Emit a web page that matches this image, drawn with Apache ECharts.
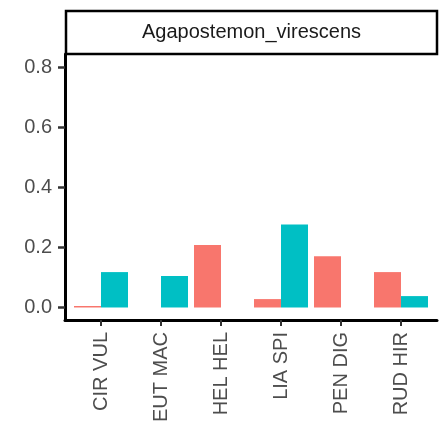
<!DOCTYPE html>
<html>
<head>
<meta charset="utf-8">
<script src="https://cdn.jsdelivr.net/npm/echarts@6/dist/echarts.min.js"></script>
<style>
  html, body { margin: 0; padding: 0; background: #ffffff; }
  #chart { width: 445px; height: 426px; }
</style>
</head>
<body>
<div id="chart"></div>
<script>
// Plant species visited (abbreviated codes)
const categories = ['CIR VUL', 'EUT MAC', 'HEL HEL', 'LIA SPI', 'PEN DIG', 'RUD HIR'];
// Two groups compared per plant
const groupA = [0.005, 0, 0.208, 0.028, 0.171, 0.118];
const groupB = [0.118, 0.105, 0, 0.277, 0, 0.038];
const yTicks = [0, 0.2, 0.4, 0.6, 0.8];
const panelTitle = 'Agapostemon_virescens';

const FONT = 'Liberation Sans, Arial, Helvetica, sans-serif';
// category positions 1..n on a continuous axis, padded by 0.6 on each side
const xPos = categories.map((_, i) => i + 1);

const chart = echarts.init(document.getElementById('chart'), null, { renderer: 'canvas' });

chart.setOption({
  animation: false,
  backgroundColor: '#ffffff',
  graphic: [
    {
      type: 'rect',
      shape: { x: 66, y: 11, width: 371, height: 43 },
      style: { fill: '#ffffff', stroke: '#000000', lineWidth: 2.5 },
      z: 10
    },
    {
      type: 'text',
      x: 251.5, y: 32.5,
      style: {
        text: panelTitle,
        fill: '#1a1a1a',
        font: '20px ' + FONT,
        textAlign: 'center',
        textVerticalAlign: 'middle'
      },
      z: 11
    }
  ],
  grid: { left: 65, right: 8, top: 54, bottom: 106 },
  xAxis: {
    type: 'value',
    min: 0.4,
    max: categories.length + 0.6,
    axisLine: { show: true, onZero: false, lineStyle: { color: '#000000', width: 3 } },
    axisTick: { show: true, inside: false, length: 6, customValues: xPos, lineStyle: { color: '#333333', width: 2 } },
    axisLabel: {
      rotate: 90, margin: 12, color: '#4d4d4d', fontSize: 20, fontFamily: FONT,
      customValues: xPos,
      formatter: v => categories[Math.round(v) - 1]
    },
    splitLine: { show: false }
  },
  yAxis: {
    type: 'value',
    min: -0.0417,
    max: 0.845,
    axisLine: { show: true, onZero: false, lineStyle: { color: '#000000', width: 3 } },
    axisTick: { show: true, inside: false, length: 7, customValues: yTicks.slice(), lineStyle: { color: '#333333', width: 2.5 } },
    axisLabel: {
      margin: 13, color: '#4d4d4d', fontSize: 20, fontFamily: FONT,
      customValues: yTicks.slice(),
      formatter: v => v.toFixed(1)
    },
    splitLine: { show: false }
  },
  series: [
    {
      type: 'bar',
      name: 'A',
      data: groupA.map((v, i) => [xPos[i], v]),
      barWidth: 27,
      barGap: '0%',
      itemStyle: { color: '#F8766D' }
    },
    {
      type: 'bar',
      name: 'B',
      data: groupB.map((v, i) => [xPos[i], v]),
      barWidth: 27,
      barGap: '0%',
      itemStyle: { color: '#00BFC4' }
    }
  ]
});
</script>
</body>
</html>
